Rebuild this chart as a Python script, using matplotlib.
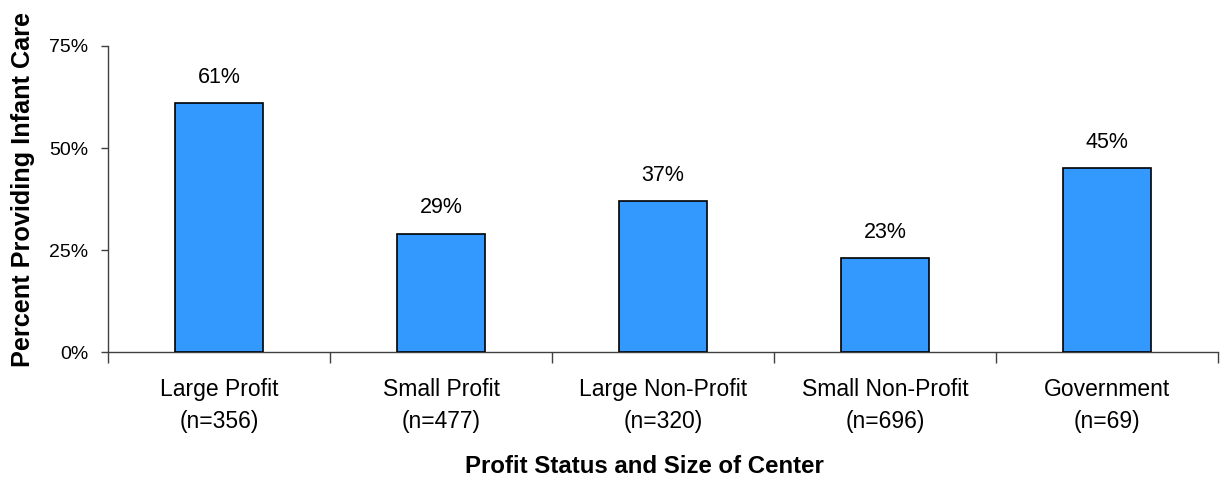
import matplotlib.pyplot as plt
import numpy as np

plt.rcParams['font.family'] = ['Liberation Sans', 'DejaVu Sans']

categories = ["Large Profit\n(n=356)", "Small Profit\n(n=477)", "Large Non-Profit\n(n=320)",
              "Small Non-Profit\n(n=696)", "Government\n(n=69)"]
values = [61, 29, 37, 23, 45]
yticks = [0, 25, 50, 75]

fig = plt.figure(figsize=(12.22, 4.79), dpi=100)
ax = fig.add_axes([0.0884, 0.265, 0.9083, 0.639])

x = np.arange(len(categories))
ax.bar(x, values, width=0.4, color='#3399FF', edgecolor='black', linewidth=1.2, zorder=3)
for xi, v in zip(x, values):
    ax.text(xi, v + 3.8, f"{v}%", ha='center', va='bottom', fontsize=15.5)

ax.set_xlim(-0.5, len(categories) - 0.5)
ax.set_ylim(0, 75)
ax.set_yticks(yticks)
ax.set_yticklabels([f"{t}%" for t in yticks], fontsize=14)
ax.set_xticks(x)
ax.set_xticklabels(categories, fontsize=16.5, linespacing=1.45)
ax.tick_params(axis='x', which='major', length=0, pad=19)
ax.set_xticks(np.arange(len(categories) + 1) - 0.5, minor=True)
ax.tick_params(axis='x', which='minor', length=8, width=1, color='#404040')
ax.tick_params(axis='y', length=5, width=1, color='#404040', pad=9)

for s in ['top', 'right']:
    ax.spines[s].set_visible(False)
for s in ['left', 'bottom']:
    ax.spines[s].set_color('#404040')
    ax.spines[s].set_linewidth(1)

ax.set_ylabel("Percent Providing Infant Care", fontsize=18.2, fontweight='bold')
ax.yaxis.set_label_coords(-0.066, 0.53)
ax.set_xlabel("Profit Status and Size of Center", fontsize=17.3, fontweight='bold')
ax.xaxis.set_label_coords(0.483, -0.335)

fig.savefig("out.png", dpi=100)
